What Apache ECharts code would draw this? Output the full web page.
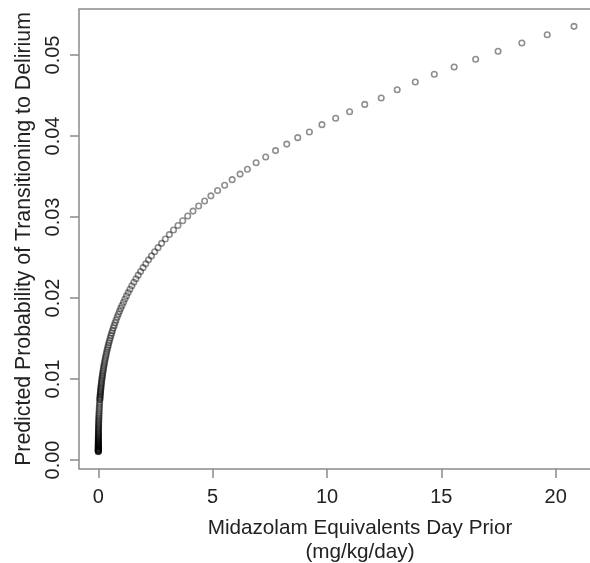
<!DOCTYPE html>
<html>
<head>
<meta charset="utf-8">
<title>Predicted probability of delirium</title>
<script src="https://cdn.jsdelivr.net/npm/echarts@6/dist/echarts.min.js"></script>
<style>
  html, body { margin: 0; padding: 0; background: #fff; }
  #chart { width: 590px; height: 563px; }
</style>
</head>
<body>
<div id="chart"></div>
<script>
  // dose (mg/kg/day), highest first
  const doseX = [
    20.80, 19.63, 18.52, 17.48, 16.50, 15.56, 14.69, 13.86, 13.07, 12.37,
    11.65, 10.99, 10.38, 9.78, 9.23, 8.72, 8.24, 7.75, 7.32, 6.90,
    6.52, 6.20, 5.853, 5.525, 5.215, 4.923, 4.648, 4.387, 4.142, 3.910,
    3.691, 3.484, 3.289, 3.105, 2.931, 2.767, 2.612, 2.465, 2.327, 2.197,
    2.074, 1.958, 1.848, 1.744, 1.647, 1.554, 1.467, 1.385, 1.308, 1.234,
    1.165, 1.100, 1.038, 0.980, 0.925, 0.874, 0.825, 0.778, 0.735, 0.694,
    0.655, 0.618, 0.583, 0.551, 0.520, 0.491, 0.463, 0.437, 0.413, 0.390,
    0.368, 0.347, 0.328, 0.310, 0.292, 0.276, 0.260, 0.246, 0.232, 0.219,
    0.207, 0.195, 0.184, 0.174, 0.164, 0.155, 0.146, 0.138, 0.130, 0.123,
    0.116, 0.110, 0.104, 0.098, 0.092, 0.087, 0.082, 0.078, 0.073, 0.069,
    0.065, 0.058, 0.052, 0.046, 0.041, 0.037, 0.033, 0.029, 0.026, 0.023,
    0.021, 0.018, 0.016, 0.015, 0.013, 0.012, 0.010, 0.009, 0.008, 0.007,
    0.0065, 0.0058, 0.0052, 0.0046, 0.0041, 0.0037, 0.0033, 0.0029, 0.0026, 0.0023,
    0.0021, 0.0018, 0.0016, 0.0015, 0.0013, 0.0012, 0.0010, 0.0009, 0.0008, 0.0007,
    0.0006, 0.0006, 0.0005, 0.0005, 0.0004, 0.0004, 0.0003, 0.0003, 0.0003, 0.0002,
    0.0002
  ]
  // predicted probability for each dose above
  const probY = [
    0.05354, 0.05251, 0.05148, 0.05046, 0.04947, 0.04852, 0.04762, 0.04667, 0.04572, 0.04470,
    0.04390, 0.04300, 0.04220, 0.04140, 0.04050, 0.03980, 0.03900, 0.03820, 0.03740, 0.03670,
    0.03590, 0.03530, 0.03461, 0.03393, 0.03327, 0.03261, 0.03197, 0.03135, 0.03073, 0.03013,
    0.02954, 0.02896, 0.02839, 0.02783, 0.02728, 0.02675, 0.02622, 0.02571, 0.02520, 0.02471,
    0.02422, 0.02375, 0.02328, 0.02282, 0.02238, 0.02194, 0.02151, 0.02108, 0.02067, 0.02026,
    0.01987, 0.01948, 0.01909, 0.01872, 0.01835, 0.01799, 0.01764, 0.01729, 0.01695, 0.01662,
    0.01629, 0.01597, 0.01566, 0.01535, 0.01505, 0.01476, 0.01447, 0.01418, 0.01390, 0.01363,
    0.01336, 0.01310, 0.01284, 0.01259, 0.01234, 0.01210, 0.01186, 0.01163, 0.01140, 0.01118,
    0.01096, 0.01074, 0.01053, 0.01033, 0.01012, 0.00993, 0.00973, 0.00954, 0.00935, 0.00917,
    0.00899, 0.00881, 0.00864, 0.00847, 0.00830, 0.00814, 0.00798, 0.00782, 0.00767, 0.00752,
    0.00737, 0.00708, 0.00681, 0.00654, 0.00629, 0.00605, 0.00581, 0.00558, 0.00537, 0.00516,
    0.00496, 0.00477, 0.00458, 0.00440, 0.00423, 0.00407, 0.00391, 0.00376, 0.00361, 0.00347,
    0.00334, 0.00321, 0.00308, 0.00296, 0.00285, 0.00274, 0.00263, 0.00253, 0.00243, 0.00233,
    0.00224, 0.00216, 0.00207, 0.00199, 0.00191, 0.00184, 0.00177, 0.00170, 0.00163, 0.00157,
    0.00151, 0.00145, 0.00139, 0.00134, 0.00129, 0.00124, 0.00119, 0.00114, 0.00110, 0.00106,
    0.00102
  ]
  const xTicks = [0, 5, 10, 15, 20]
  const yTicks = [0, 0.01, 0.02, 0.03, 0.04, 0.05]

  const FONT = '"Liberation Sans", Arial, Helvetica, sans-serif'
  const GREY = '#8a8a8a'

  const points = doseX.map((x, i) => [x, probY[i]])

  const chart = echarts.init(document.getElementById('chart'), null, { renderer: 'canvas' })
  chart.setOption({
    animation: false,
    backgroundColor: '#fff',
    // plot box, right side runs past the edge of the picture
    grid: {
      left: 79,
      top: 9,
      width: 562,
      height: 460,
      containLabel: false,
      outerBoundsMode: 'none',
      show: true,
      borderColor: GREY,
      borderWidth: 1.5,
      backgroundColor: 'transparent'
    },
    xAxis: {
      type: 'value',
      min: -0.844,
      max: 23.73,
      name: 'Midazolam Equivalents Day Prior\n(mg/kg/day)',
      nameLocation: 'middle',
      nameGap: 47,
      nameTextStyle: { fontFamily: FONT, fontSize: 20.7, color: '#222', lineHeight: 24 },
      splitLine: { show: false },
      axisLine: { show: false, onZero: false },
      axisTick: { show: true, customValues: xTicks, length: 9, lineStyle: { color: GREY, width: 1.5 } },
      axisLabel: {
        customValues: xTicks,
        margin: 18,
        fontFamily: FONT,
        fontSize: 20,
        lineHeight: 21,
        color: '#222'
      }
    },
    yAxis: {
      type: 'value',
      min: -0.00111,
      max: 0.05568,
      name: 'Predicted Probability of Transitioning to Delirium',
      nameLocation: 'middle',
      nameGap: 37,
      nameRotate: 90,
      nameTextStyle: { fontFamily: FONT, fontSize: 21.3, color: '#222' },
      splitLine: { show: false },
      axisLine: { show: false, onZero: false },
      axisTick: { show: true, customValues: yTicks, length: 9, lineStyle: { color: GREY, width: 1.5 } },
      axisLabel: {
        customValues: yTicks,
        rotate: 90,
        align: 'center',
        verticalAlign: 'middle',
        margin: 26,
        fontFamily: FONT,
        fontSize: 20,
        lineHeight: 21,
        color: '#222',
        formatter: (v) => v.toFixed(2)
      }
    },
    series: [
      {
        type: 'scatter',
        data: points,
        symbol: 'circle',
        symbolSize: 5.5,
        itemStyle: {
          color: 'rgba(0,0,0,0)',
          borderColor: 'rgba(0,0,0,0.55)',
          borderWidth: 1.6
        },
        emphasis: { disabled: true }
      }
    ]
  })
</script>
</body>
</html>
